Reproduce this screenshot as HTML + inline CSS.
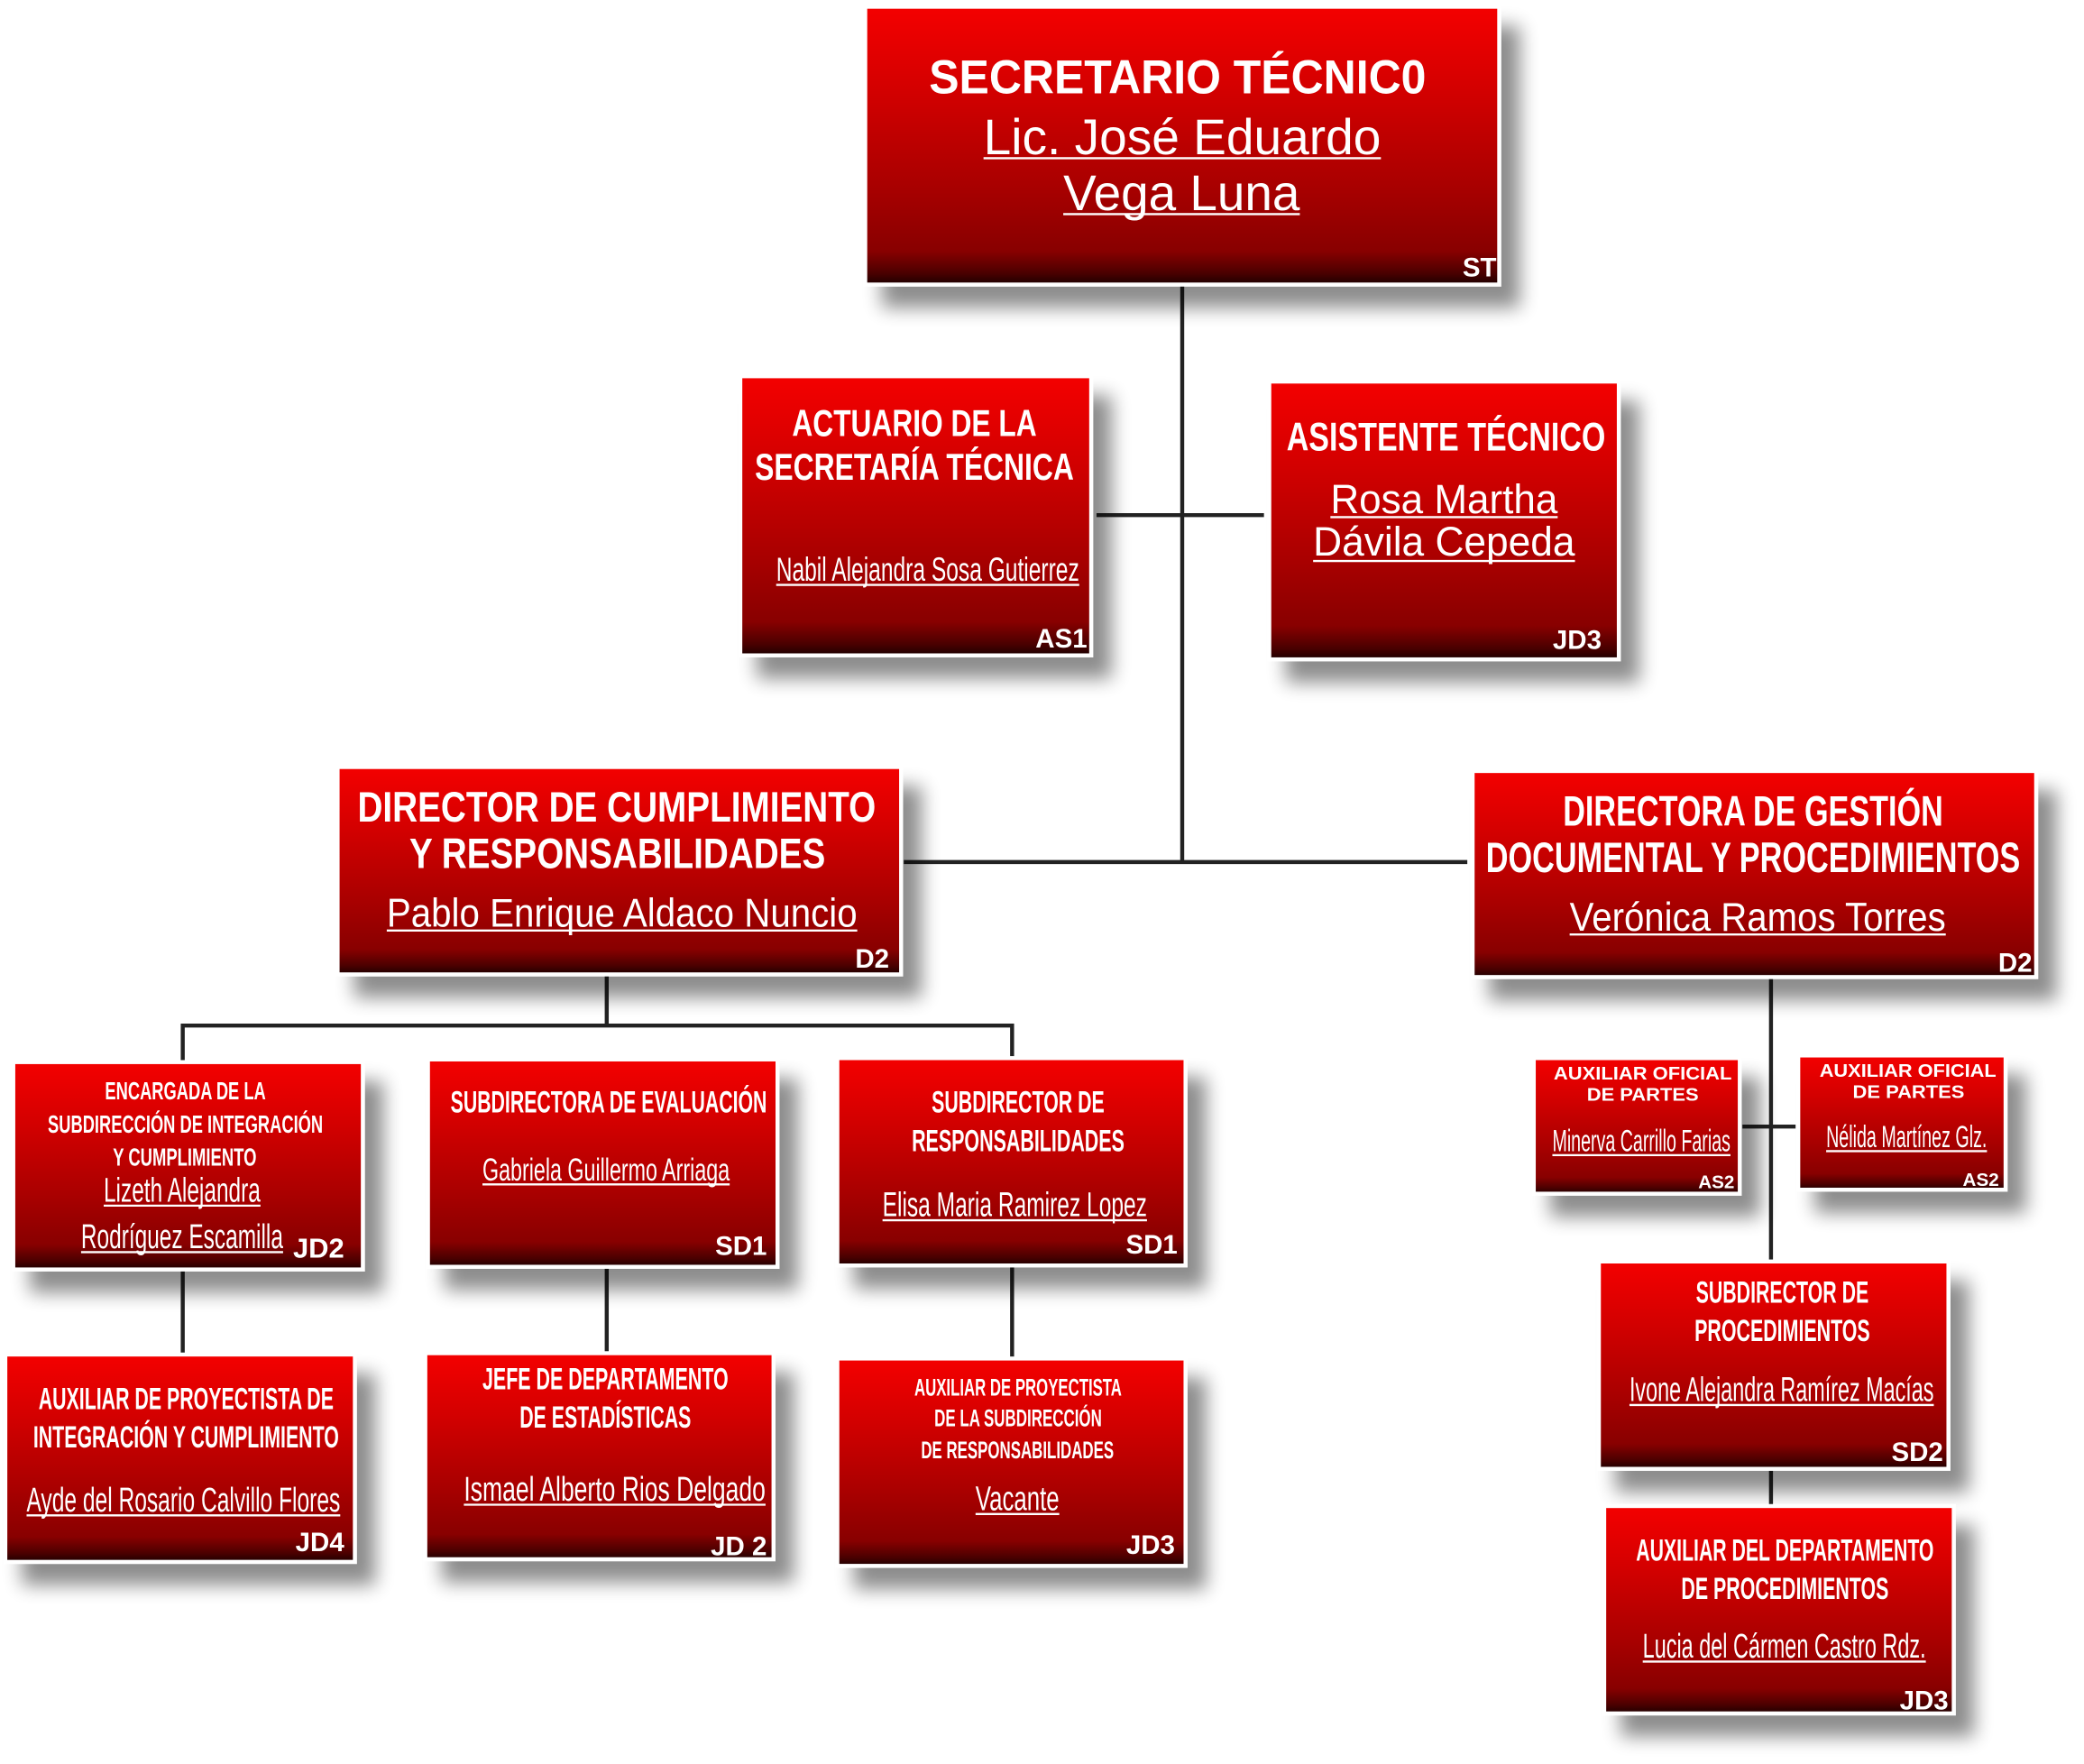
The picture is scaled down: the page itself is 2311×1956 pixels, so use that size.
<!DOCTYPE html>
<html><head><meta charset="utf-8"><style>
html,body{margin:0;padding:0;background:#fff;width:2311px;height:1956px;overflow:hidden}
svg{display:block}
text{fill:#fff;font-family:"Liberation Sans",sans-serif;text-anchor:middle}
.b{font-weight:bold}
.c{font-weight:bold;text-anchor:end;font-size:20px}
.u{stroke:#fff;stroke-width:1.6}
</style></head><body>
<svg width="2311" height="1956" viewBox="0 0 1568 1327" xmlns="http://www.w3.org/2000/svg">
<defs>
<linearGradient id="g" x1="0" y1="0" x2="0" y2="1">
<stop offset="0" stop-color="#f40303"/><stop offset=".3" stop-color="#d30202"/><stop offset=".65" stop-color="#a80303"/><stop offset=".88" stop-color="#880303"/><stop offset=".96" stop-color="#4a0000"/><stop offset="1" stop-color="#1d0000"/>
</linearGradient>
<filter id="s" x="-10%" y="-10%" width="130%" height="140%"><feGaussianBlur in="SourceAlpha" stdDeviation="7"/><feOffset dx="14" dy="16"/><feComponentTransfer><feFuncA type="linear" slope=".45"/></feComponentTransfer><feMerge><feMergeNode/><feMergeNode in="SourceGraphic"/></feMerge></filter>
</defs>
<g stroke="#222" stroke-width="3" fill="none">
<path d="M889.5 214V650M825 387.5H951M680 648.5H1104M456.5 733V771.5M137.5 771.5H761.5M137.5 770V799M761.5 770V797M137.5 955V1019M456.5 953V1018M761.5 952V1022M1332.5 735V949M1311 847.5H1351M1332.5 1105V1133"/>
</g>
<g fill="url(#g)" stroke="#fff" stroke-width="3" filter="url(#s)">
<rect x="651" y="5" width="477" height="209"/>
<rect x="557" y="283" width="264" height="210"/>
<rect x="955" y="287" width="263" height="209"/>
<rect x="254" y="577" width="424" height="156"/>
<rect x="1108" y="580" width="424" height="155"/>
<rect x="10" y="799" width="263" height="156"/>
<rect x="322" y="797" width="263" height="156"/>
<rect x="630" y="796" width="262" height="156"/>
<rect x="4" y="1019" width="263" height="156"/>
<rect x="320" y="1018" width="262" height="155"/>
<rect x="630" y="1022" width="262" height="156"/>
<rect x="1154" y="796" width="155" height="102"/>
<rect x="1353" y="794" width="156" height="101"/>
<rect x="1203" y="949" width="263" height="156"/>
<rect x="1207" y="1133" width="263" height="156"/>
</g>
<g>
<text class="b" x="886" y="70" font-size="36" textLength="374" lengthAdjust="spacingAndGlyphs">SECRETARIO TÉCNIC0</text>
<text x="889.5" y="116" font-size="38" textLength="299" lengthAdjust="spacingAndGlyphs">Lic. José Eduardo</text>
<line class="u" x1="740" y1="119" x2="1039" y2="119"/>
<text x="889" y="158" font-size="38" textLength="178" lengthAdjust="spacingAndGlyphs">Vega Luna</text>
<line class="u" x1="800" y1="161" x2="978" y2="161"/>
<text class="c" x="1126" y="208">ST</text>

<text class="b" x="688" y="328" font-size="28" textLength="184" lengthAdjust="spacingAndGlyphs">ACTUARIO DE LA</text>
<text class="b" x="688" y="361" font-size="28" textLength="240" lengthAdjust="spacingAndGlyphs">SECRETARÍA TÉCNICA</text>
<text x="698" y="437" font-size="25" textLength="228" lengthAdjust="spacingAndGlyphs">Nabil Alejandra Sosa Gutierrez</text>
<line class="u" x1="584" y1="440" x2="812" y2="440"/>
<text class="c" x="818" y="487">AS1</text>

<text class="b" x="1088" y="339" font-size="30" textLength="240" lengthAdjust="spacingAndGlyphs">ASISTENTE TÉCNICO</text>
<text x="1086.5" y="386" font-size="31" textLength="171" lengthAdjust="spacingAndGlyphs">Rosa Martha</text>
<line class="u" x1="1001" y1="389" x2="1172" y2="389"/>
<text x="1086.5" y="418" font-size="31" textLength="197" lengthAdjust="spacingAndGlyphs">Dávila Cepeda</text>
<line class="u" x1="988" y1="422" x2="1185" y2="422"/>
<text class="c" x="1205" y="488">JD3</text>

<text class="b" x="464" y="618" font-size="32" textLength="390" lengthAdjust="spacingAndGlyphs">DIRECTOR DE CUMPLIMIENTO</text>
<text class="b" x="464.5" y="653" font-size="32" textLength="313" lengthAdjust="spacingAndGlyphs">Y RESPONSABILIDADES</text>
<text x="468" y="697" font-size="30" textLength="354" lengthAdjust="spacingAndGlyphs">Pablo Enrique Aldaco Nuncio</text>
<line class="u" x1="291" y1="700" x2="645" y2="700"/>
<text class="c" x="669" y="728">D2</text>

<text class="b" x="1319" y="621" font-size="32" textLength="286" lengthAdjust="spacingAndGlyphs">DIRECTORA DE GESTIÓN</text>
<text class="b" x="1319" y="656" font-size="32" textLength="402" lengthAdjust="spacingAndGlyphs">DOCUMENTAL Y PROCEDIMIENTOS</text>
<text x="1322.5" y="700" font-size="30" textLength="283" lengthAdjust="spacingAndGlyphs">Verónica Ramos Torres</text>
<line class="u" x1="1181" y1="703" x2="1464" y2="703"/>
<text class="c" x="1529" y="731">D2</text>

<text class="b" x="139.5" y="827" font-size="19" textLength="121" lengthAdjust="spacingAndGlyphs">ENCARGADA DE LA</text>
<text class="b" x="139.5" y="852" font-size="19" textLength="207" lengthAdjust="spacingAndGlyphs">SUBDIRECCIÓN DE INTEGRACIÓN</text>
<text class="b" x="139" y="877" font-size="19" textLength="108" lengthAdjust="spacingAndGlyphs">Y CUMPLIMIENTO</text>
<text x="137" y="904" font-size="26" textLength="118" lengthAdjust="spacingAndGlyphs">Lizeth Alejandra</text>
<line class="u" x1="78" y1="907" x2="196" y2="907"/>
<text x="137" y="939" font-size="26" textLength="152" lengthAdjust="spacingAndGlyphs">Rodríguez Escamilla</text>
<line class="u" x1="61" y1="942" x2="213" y2="942"/>
<text class="c" x="259" y="946" style="font-size:21px">JD2</text>

<text class="b" x="458" y="837" font-size="23" textLength="238" lengthAdjust="spacingAndGlyphs">SUBDIRECTORA DE EVALUACIÓN</text>
<text x="456" y="888" font-size="24" textLength="186" lengthAdjust="spacingAndGlyphs">Gabriela Guillermo Arriaga</text>
<line class="u" x1="363" y1="891" x2="549" y2="891"/>
<text class="c" x="577" y="944">SD1</text>

<text class="b" x="766" y="837" font-size="23" textLength="130" lengthAdjust="spacingAndGlyphs">SUBDIRECTOR DE</text>
<text class="b" x="766" y="866" font-size="23" textLength="160" lengthAdjust="spacingAndGlyphs">RESPONSABILIDADES</text>
<text x="763.5" y="915" font-size="26" textLength="199" lengthAdjust="spacingAndGlyphs">Elisa Maria Ramirez Lopez</text>
<line class="u" x1="664" y1="918" x2="863" y2="918"/>
<text class="c" x="886" y="943">SD1</text>

<text class="b" x="140" y="1060" font-size="23" textLength="222" lengthAdjust="spacingAndGlyphs">AUXILIAR DE PROYECTISTA DE</text>
<text class="b" x="140" y="1089" font-size="23" textLength="230" lengthAdjust="spacingAndGlyphs">INTEGRACIÓN Y CUMPLIMIENTO</text>
<text x="138" y="1137" font-size="26" textLength="236" lengthAdjust="spacingAndGlyphs">Ayde del Rosario Calvillo Flores</text>
<line class="u" x1="20" y1="1140" x2="256" y2="1140"/>
<text class="c" x="259" y="1167">JD4</text>

<text class="b" x="455.5" y="1045" font-size="23" textLength="185" lengthAdjust="spacingAndGlyphs">JEFE DE DEPARTAMENTO</text>
<text class="b" x="455.5" y="1074" font-size="23" textLength="129" lengthAdjust="spacingAndGlyphs">DE ESTADÍSTICAS</text>
<text x="462.5" y="1129" font-size="26" textLength="227" lengthAdjust="spacingAndGlyphs">Ismael Alberto Rios Delgado</text>
<line class="u" x1="349" y1="1132" x2="576" y2="1132"/>
<text class="c" x="577" y="1170">JD 2</text>

<text class="b" x="766" y="1050" font-size="18" textLength="156" lengthAdjust="spacingAndGlyphs">AUXILIAR DE PROYECTISTA</text>
<text class="b" x="766" y="1073" font-size="18" textLength="126" lengthAdjust="spacingAndGlyphs">DE LA SUBDIRECCIÓN</text>
<text class="b" x="765.5" y="1097" font-size="18" textLength="145" lengthAdjust="spacingAndGlyphs">DE RESPONSABILIDADES</text>
<text x="765.5" y="1136" font-size="26" textLength="63" lengthAdjust="spacingAndGlyphs">Vacante</text>
<line class="u" x1="734" y1="1139" x2="797" y2="1139"/>
<text class="c" x="884" y="1169">JD3</text>

<text class="b" x="1236" y="812" font-size="14" textLength="134" lengthAdjust="spacingAndGlyphs">AUXILIAR OFICIAL</text>
<text class="b" x="1236" y="828" font-size="14" textLength="84" lengthAdjust="spacingAndGlyphs">DE PARTES</text>
<text x="1235" y="866" font-size="23" textLength="134" lengthAdjust="spacingAndGlyphs">Minerva Carrillo Farias</text>
<line class="u" x1="1168" y1="869" x2="1302" y2="869"/>
<text class="c" x="1305" y="894" style="font-size:14px">AS2</text>

<text class="b" x="1435.5" y="810" font-size="14" textLength="133" lengthAdjust="spacingAndGlyphs">AUXILIAR OFICIAL</text>
<text class="b" x="1436" y="826" font-size="14" textLength="84" lengthAdjust="spacingAndGlyphs">DE PARTES</text>
<text x="1434.5" y="863" font-size="23" textLength="121" lengthAdjust="spacingAndGlyphs">Nélida Martínez Glz.</text>
<line class="u" x1="1374" y1="866" x2="1495" y2="866"/>
<text class="c" x="1504" y="892" style="font-size:14px">AS2</text>

<text class="b" x="1341" y="980" font-size="23" textLength="130" lengthAdjust="spacingAndGlyphs">SUBDIRECTOR DE</text>
<text class="b" x="1341" y="1009" font-size="23" textLength="132" lengthAdjust="spacingAndGlyphs">PROCEDIMIENTOS</text>
<text x="1340.5" y="1054" font-size="26" textLength="229" lengthAdjust="spacingAndGlyphs">Ivone Alejandra Ramírez Macías</text>
<line class="u" x1="1226" y1="1057" x2="1455" y2="1057"/>
<text class="c" x="1462" y="1099">SD2</text>

<text class="b" x="1343" y="1174" font-size="23" textLength="224" lengthAdjust="spacingAndGlyphs">AUXILIAR DEL DEPARTAMENTO</text>
<text class="b" x="1343" y="1203" font-size="23" textLength="156" lengthAdjust="spacingAndGlyphs">DE PROCEDIMIENTOS</text>
<text x="1342.5" y="1247" font-size="26" textLength="213" lengthAdjust="spacingAndGlyphs">Lucia del Cármen Castro Rdz.</text>
<line class="u" x1="1236" y1="1250" x2="1449" y2="1250"/>
<text class="c" x="1466" y="1286">JD3</text>
</g>
</svg>
</body></html>
